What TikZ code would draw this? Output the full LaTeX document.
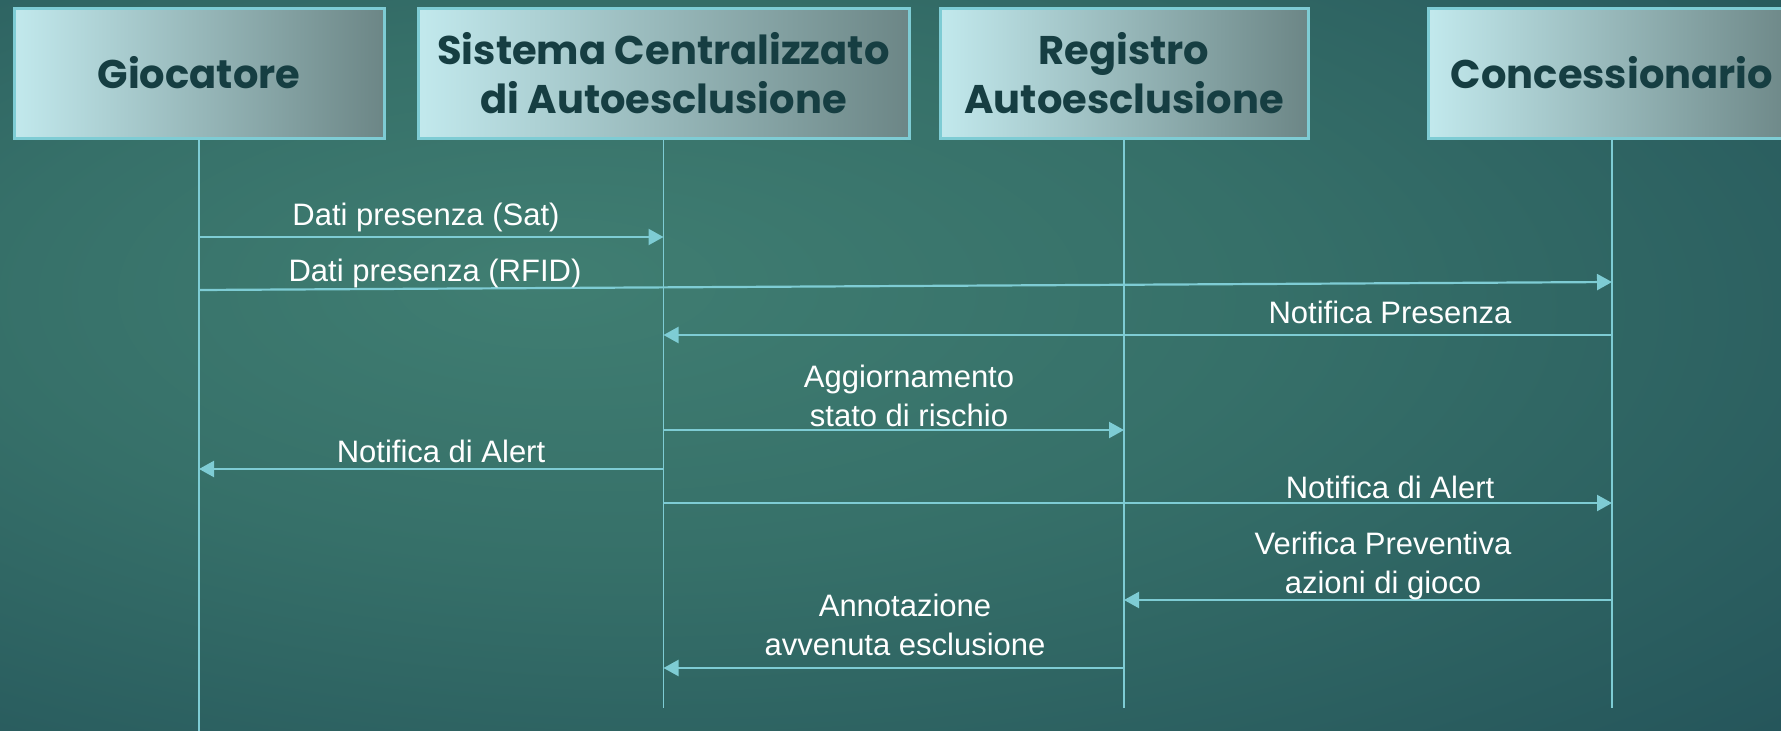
\documentclass[tikz,border=0pt]{standalone}
\usepackage{fontspec}
\setmainfont{Liberation Sans}
\newfontfamily\hdrfont{Poppins}
\usetikzlibrary{arrows.meta,calc}
\definecolor{lc}{RGB}{126,204,212}
\definecolor{boxL}{RGB}{194,233,237}
\definecolor{boxR}{RGB}{108,134,134}
\definecolor{hdrtxt}{RGB}{22,62,66}
\definecolor{bgA}{RGB}{64,126,114}
\definecolor{bgB}{RGB}{54,112,105}
\definecolor{bgC}{RGB}{36,84,90}
\definecolor{bgD}{RGB}{24,64,80}
\pgfdeclareradialshading{bgshade}{\pgfpoint{-10bp}{6bp}}{color(0bp)=(bgA); color(18bp)=(bgB); color(42bp)=(bgC); color(75bp)=(bgD)}
\tikzset{
  hbox/.style={draw=lc, line width=3pt, left color=boxL, right color=boxR,
    minimum height=130pt, inner sep=0pt, align=center, text=hdrtxt,
    font=\hdrfont\bfseries\fontsize{40}{49}\selectfont},
  life/.style={draw=lc, line width=1.8pt},
  msg/.style={draw=lc, line width=2.2pt, -{Triangle[length=15pt,width=16pt]}},
  lbl/.style={text=white, inner sep=0pt, align=center,
    font=\fontsize{31}{39}\selectfont}
}
\begin{document}
\begin{tikzpicture}[x=1pt,y=-1pt]
\useasboundingbox (0,0) rectangle (1781,731);
\clip (0,0) rectangle (1781,731);
\shade[shading=bgshade] (0,0) rectangle (1781,731);
% headers
\node[hbox, minimum width=370pt] (g) at (199,73) {Giocatore};
\node[hbox, minimum width=491pt] (s) at (663.5,73) {Sistema Centralizzato\\di Autoesclusione};
\node[hbox, minimum width=368pt] (r) at (1124,73) {Registro\\Autoesclusione};
\node[hbox, minimum width=368pt] (c) at (1612,73) {Concessionario};
% lifeline ends
\coordinate (gE) at (199,731);
\coordinate (sE) at (663.5,708);
\coordinate (rE) at (1124,708);
\coordinate (cE) at (1612,708);
\draw[life] (g.south) -- (gE);
\draw[life] (s.south) -- (sE);
\draw[life] (r.south) -- (rE);
\draw[life] (c.south) -- (cE);
% message heights
\coordinate (y1) at (0,237);
\coordinate (y2a) at (0,290);
\coordinate (y2b) at (0,282);
\coordinate (y3) at (0,335);
\coordinate (y4) at (0,430);
\coordinate (y5) at (0,469);
\coordinate (y6) at (0,503);
\coordinate (y7) at (0,600);
\coordinate (y8) at (0,668);
% messages
\draw[msg] (g |- y1) -- (s |- y1);
\draw[msg] (g |- y2a) -- (c |- y2b);
\draw[msg] (c |- y3) -- (s |- y3);
\draw[msg] (s |- y4) -- (r |- y4);
\draw[msg] (s |- y5) -- (g |- y5);
\draw[msg] (s |- y6) -- (c |- y6);
\draw[msg] (c |- y7) -- (r |- y7);
\draw[msg] (r |- y8) -- (s |- y8);
% labels
\node[lbl] (l1) at (426,217) {Dati presenza (Sat)};
\node[lbl] (l2) at (435,273) {Dati presenza (RFID)};
\node[lbl] (l3) at (1390,312) {Notifica Presenza};
\node[lbl] (l4) at (909,396) {Aggiornamento\\stato di rischio};
\node[lbl] (l5) at (441,451) {Notifica di Alert};
\node[lbl] (l6) at (1390,487) {Notifica di Alert};
\node[lbl] (l7) at (1383,566) {Verifica Preventiva\\azioni di gioco};
\node[lbl] (l8) at (905,625) {Annotazione\\avvenuta esclusione};
\end{tikzpicture}
\end{document}
